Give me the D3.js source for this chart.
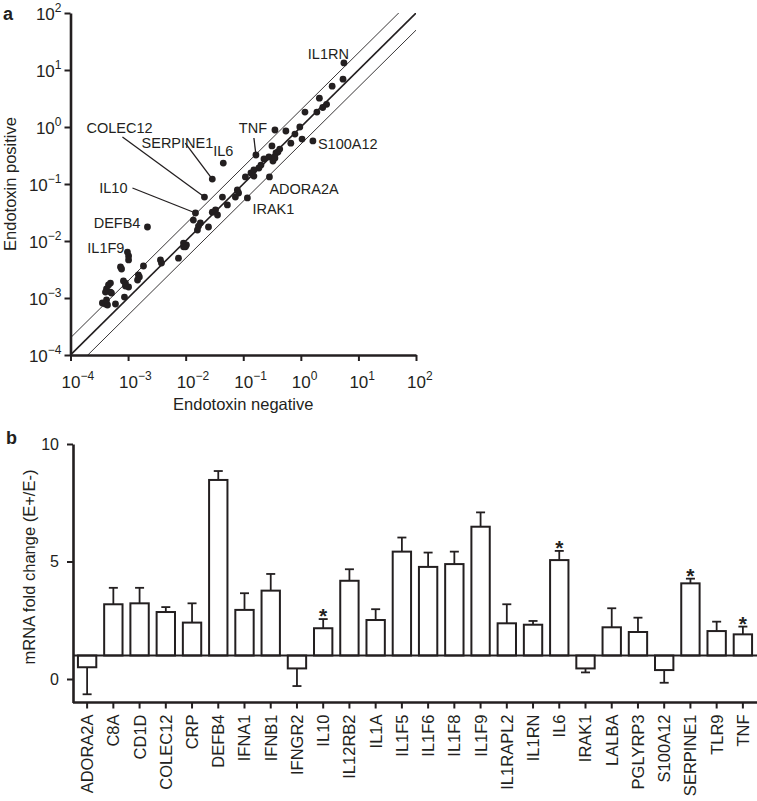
<!DOCTYPE html>
<html>
<head>
<meta charset="utf-8">
<script src="https://cdn.jsdelivr.net/npm/d3@7/dist/d3.min.js"></script>
<style>
  html, body { margin: 0; padding: 0; background: #fff; }
  svg { display: block; font-family: "Liberation Sans", Arial, Helvetica, sans-serif; }
  text { fill: #231f20; }
</style>
</head>
<body>
<svg id="chart" width="757" height="801"></svg>
<script>
// ---------- Panel a data: expression (Endotoxin negative vs positive) ----------
const labeledGenes = ["IL1RN","TNF","S100A12","ADORA2A","IRAK1","IL6","SERPINE1","COLEC12","IL10","DEFB4","IL1F9"];
const labeledNeg   = [5.6, 0.166, 1.62, 0.285, 0.118, 0.045, 0.029, 0.0212, 0.0148, 0.00217, 0.000975];
const labeledPos   = [13.3, 0.323, 0.57, 0.133, 0.057, 0.233, 0.122, 0.059, 0.031, 0.0176, 0.0064];

const otherNeg = [5.4, 3.5, 2.1, 2.8, 2.4, 1.18, 1.9, 0.96, 0.55, 0.355, 0.79, 1.05, 0.67, 0.315, 0.43, 0.40, 0.37,
  0.229, 0.279, 0.328, 0.355, 0.203, 0.187, 0.153, 0.136, 0.153, 0.109, 0.0435, 0.079, 0.083, 0.073, 0.053,
  0.033, 0.029, 0.0357, 0.0136, 0.018, 0.0167, 0.016, 0.0249, 0.00917, 0.0099, 0.0103, 0.0092, 0.0075,
  0.00365, 0.0038, 0.00185, 0.00102, 0.00102, 0.000738, 0.00077, 0.00151, 0.00157, 0.00146, 0.00083, 0.0009,
  0.00102, 0.0009, 0.000494, 0.000457, 0.000422, 0.000405, 0.000494, 0.000515, 0.000865, 0.000358, 0.000405,
  0.000439, 0.000604, 0.000422];
const otherPos = [6.9, 5.2, 3.2, 2.5, 2.2, 1.83, 1.83, 1.0, 0.85, 0.885, 0.75, 0.615, 0.52, 0.465, 0.41, 0.364, 0.35,
  0.275, 0.298, 0.253, 0.286, 0.215, 0.191, 0.176, 0.156, 0.138, 0.133, 0.059, 0.0785, 0.0695, 0.059, 0.043,
  0.035, 0.032, 0.0286, 0.0233, 0.0207, 0.0183, 0.0156, 0.0176, 0.0092, 0.0079, 0.0085, 0.0079, 0.0050,
  0.00465, 0.0041, 0.00364, 0.00546, 0.00465, 0.0035, 0.00323, 0.00254, 0.00234, 0.00207, 0.00199, 0.00183,
  0.00156, 0.00162, 0.00183, 0.00169, 0.00144, 0.00127, 0.00127, 0.00122, 0.00104, 0.000817, 0.000785,
  0.000754, 0.000785, 0.000922];

const logExponents = [-4, -3, -2, -1, 0, 1, 2];
const ratioLines = [2, 1, 0.5];

// ---------- Panel b data: mRNA fold change (E+/E-) ----------
const barGenes = ["ADORA2A","C8A","CD1D","COLEC12","CRP","DEFB4","IFNA1","IFNB1","IFNGR2","IL10","IL12RB2","IL1A",
  "IL1F5","IL1F6","IL1F8","IL1F9","IL1RAPL2","IL1RN","IL6","IRAK1","LALBA","PGLYRP3","S100A12","SERPINE1","TLR9","TNF"];
const foldChange = [0.50, 3.18, 3.22, 2.85, 2.40, 8.47, 2.94, 3.76, 0.45, 2.16, 4.18, 2.51,
  5.42, 4.77, 4.89, 6.48, 2.37, 2.31, 5.06, 0.45, 2.20, 2.00, 0.38, 4.07, 2.04, 1.90];
const foldError = [1.15, 0.70, 0.66, 0.21, 0.82, 0.38, 0.71, 0.71, 0.75, 0.39, 0.49, 0.46,
  0.60, 0.61, 0.53, 0.61, 0.81, 0.16, 0.39, 0.17, 0.81, 0.61, 0.54, 0.20, 0.40, 0.33];
const significant = ["IL10","IL6","SERPINE1","TNF"];
const barTicks = [0, 5, 10];

const INK = "#231f20";
const svg = d3.select("#chart");

// ================= Panel a =================
const xS = d3.scaleLog().domain([1e-4, 1e2]).range([70.5, 416]);
const yS = d3.scaleLog().domain([1e-4, 1e2]).range([355, 13]);
const tickVals = logExponents.map(e => Math.pow(10, e));
const expText = e => (e < 0 ? "\u2212" + Math.abs(e) : String(e));

const gA = svg.append("g");

svg.append("defs").append("clipPath").attr("id", "plotclip")
  .append("rect").attr("x", xS(1e-4)).attr("y", yS(1e2))
  .attr("width", xS(1e2) - xS(1e-4)).attr("height", yS(1e-4) - yS(1e2));

// ratio lines
const lineGen = d3.line().x(d => xS(d[0])).y(d => yS(d[1]));
gA.append("g").attr("clip-path", "url(#plotclip)")
  .selectAll("path").data(ratioLines).join("path")
  .attr("d", r => lineGen([[1e-5, 1e-5 * r], [1e3, 1e3 * r]]))
  .attr("fill", "none").attr("stroke", INK)
  .attr("stroke-width", r => r === 1 ? 1.6 : 0.9);

// axes
const xAxisA = gA.append("g").attr("transform", `translate(0,${yS(1e-4)})`)
  .call(d3.axisBottom(xS).tickValues(tickVals).tickSize(6).tickSizeOuter(0).tickFormat(""));
const yAxisA = gA.append("g").attr("transform", `translate(${xS(1e-4)},0)`)
  .call(d3.axisLeft(yS).tickValues(tickVals).tickSize(6).tickSizeOuter(0).tickFormat(""));
[xAxisA, yAxisA].forEach(ax => {
  ax.select(".domain").attr("stroke", INK).attr("stroke-width", 2.6);
  ax.selectAll(".tick line").attr("stroke", INK).attr("stroke-width", 2);
});
xAxisA.selectAll(".tick").each(function(d) {
  const e = Math.round(Math.log10(d));
  const t = d3.select(this).append("text").attr("y", 33).attr("x", -9.5)
    .attr("text-anchor", "start").style("font-size", "17px").attr("fill", INK);
  t.append("tspan").text("10");
  t.append("tspan").attr("dy", -8).style("font-size", "12px").text(expText(e));
});
yAxisA.selectAll(".tick").each(function(d) {
  const e = Math.round(Math.log10(d));
  const t = d3.select(this).append("text").attr("x", -9).attr("y", 6)
    .attr("text-anchor", "end").style("font-size", "17px").attr("fill", INK);
  t.append("tspan").text("10");
  t.append("tspan").attr("dy", -8).style("font-size", "12px").text(expText(e));
});

// axis titles
gA.append("text").attr("x", (xS(1e-4) + xS(1e2)) / 2).attr("y", 410)
  .attr("text-anchor", "middle").style("font-size", "16.5px").text("Endotoxin negative");
gA.append("text").attr("transform", `translate(16,${(yS(1e-4) + yS(1e2)) / 2}) rotate(-90)`)
  .attr("text-anchor", "middle").style("font-size", "16.5px").text("Endotoxin positive");
gA.append("text").attr("x", 3).attr("y", 20).style("font-size", "18px").style("font-weight", "bold").text("a");

// points
const otherPts = otherNeg.map((v, i) => ({ neg: v, pos: otherPos[i] }));
const labeledPts = labeledGenes.map((g, i) => ({ gene: g, neg: labeledNeg[i], pos: labeledPos[i] }));
gA.append("g").selectAll("circle").data(otherPts.concat(labeledPts)).join("circle")
  .attr("cx", d => xS(d.neg)).attr("cy", d => yS(d.pos)).attr("r", 3.4).attr("fill", INK);

// annotation layout (text offset relative to point, optional leader start)
const annot = {
  IL1RN:   { dx: 5,    dy: -4,  anchor: "end" },
  TNF:     { dx: -3,   dy: -22, anchor: "middle", lead: [-2, -17] },
  S100A12: { dx: 5,    dy: 8,   anchor: "start" },
  ADORA2A: { dx: 0,    dy: 17,  anchor: "start" },
  IRAK1:   { dx: 5,    dy: 16,  anchor: "start" },
  IL6:     { dx: 0,    dy: -7,  anchor: "middle" },
  SERPINE1:{ dx: 1,    dy: -31, anchor: "end", lead: [-27, -36] },
  COLEC12: { dx: -118, dy: -64, anchor: "start", lead: [-82, -60] },
  IL10:    { dx: -68,  dy: -20, anchor: "end", lead: [-63, -25] },
  DEFB4:   { dx: -7,   dy: 1,   anchor: "end" },
  IL1F9:   { dx: -3,   dy: 1,   anchor: "end" }
};
const gLab = gA.append("g");
labeledPts.forEach(p => {
  const a = annot[p.gene];
  const px = xS(p.neg), py = yS(p.pos);
  if (a.lead) {
    gLab.append("line").attr("x1", px + a.lead[0]).attr("y1", py + a.lead[1])
      .attr("x2", px).attr("y2", py).attr("stroke", INK).attr("stroke-width", 1.3);
  }
  gLab.append("text").attr("x", px + a.dx).attr("y", py + a.dy)
    .attr("text-anchor", a.anchor).style("font-size", "14.5px").text(p.gene);
});

// ================= Panel b =================
const xB = d3.scaleBand().domain(barGenes).range([74, 756]).paddingInner(0.3).paddingOuter(0.15);
const yB = d3.scaleLinear().domain([-1, 10]).range([702.5, 444]);
const gB = svg.append("g");
const bars = barGenes.map((g, i) => ({ gene: g, v: foldChange[i], e: foldError[i] }));

// error bars
const capHalf = 4.5;
const gErr = gB.append("g").attr("stroke", INK).attr("stroke-width", 1.8);
bars.forEach(b => {
  const cx = xB(b.gene) + xB.bandwidth() / 2;
  const end = b.v >= 1 ? b.v + b.e : b.v - b.e;
  gErr.append("line").attr("x1", cx).attr("x2", cx).attr("y1", yB(b.v)).attr("y2", yB(end));
  gErr.append("line").attr("x1", cx - capHalf).attr("x2", cx + capHalf).attr("y1", yB(end)).attr("y2", yB(end));
});

// bars (from baseline fold change = 1)
gB.append("g").selectAll("rect").data(bars).join("rect")
  .attr("x", d => xB(d.gene)).attr("width", xB.bandwidth())
  .attr("y", d => yB(Math.max(d.v, 1))).attr("height", d => Math.abs(yB(d.v) - yB(1)))
  .attr("fill", "#fff").attr("stroke", INK).attr("stroke-width", 2);

// baseline at 1
gB.append("line").attr("x1", 74).attr("x2", 757).attr("y1", yB(1)).attr("y2", yB(1))
  .attr("stroke", INK).attr("stroke-width", 2.2);

// significance stars
gB.append("g").selectAll("text").data(bars.filter(b => significant.includes(b.gene))).join("text")
  .attr("x", d => xB(d.gene) + xB.bandwidth() / 2).attr("y", d => yB(d.v + d.e) + 4)
  .attr("text-anchor", "middle").style("font-size", "21px").style("font-weight", "bold").text("*");

// axes
const xAxisB = gB.append("g").attr("transform", `translate(0,${yB(-1)})`)
  .call(d3.axisBottom(xB).tickSize(6).tickSizeOuter(0));
xAxisB.select(".domain").attr("d", `M73,0H757`).attr("stroke", INK).attr("stroke-width", 2.6);
xAxisB.selectAll(".tick line").attr("stroke", INK).attr("stroke-width", 2);
xAxisB.selectAll(".tick text").attr("transform", "rotate(-90)").attr("x", -12).attr("y", 0)
  .attr("dy", "0.36em").attr("text-anchor", "end").attr("fill", INK)
  .style("font-size", "16.5px").style("font-family", "'Liberation Sans', Arial, sans-serif");

const yAxisB = gB.append("g").attr("transform", "translate(73,0)")
  .call(d3.axisLeft(yB).tickValues(barTicks).tickSize(6).tickSizeOuter(0));
yAxisB.select(".domain").attr("stroke", INK).attr("stroke-width", 2.6);
yAxisB.selectAll(".tick line").attr("stroke", INK).attr("stroke-width", 2);
yAxisB.selectAll(".tick text").attr("x", -14).attr("fill", INK)
  .style("font-size", "16px").style("font-family", "'Liberation Sans', Arial, sans-serif");

gB.append("text").attr("transform", `translate(35,567) rotate(-90)`)
  .attr("text-anchor", "middle").style("font-size", "16.5px").text("mRNA fold change (E+/E-)");
gB.append("text").attr("x", 6).attr("y", 444).style("font-size", "18px").style("font-weight", "bold").text("b");
</script>
</body>
</html>
